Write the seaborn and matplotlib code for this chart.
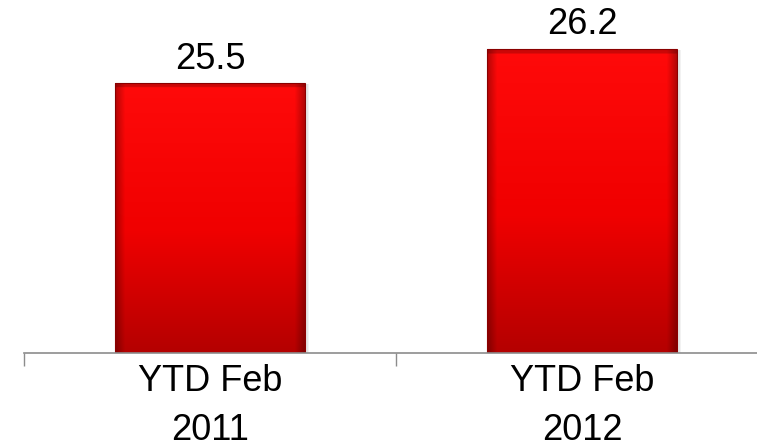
import numpy as np
import pandas as pd
import matplotlib
matplotlib.use("Agg")
import matplotlib.pyplot as plt
import matplotlib.patches as mpatches
from matplotlib.colors import to_rgb
import seaborn as sns

# Data
categories = ["YTD Feb\n2011", "YTD Feb\n2012"]
values = [25.5, 26.2]

sns.set_theme(style="white")
plt.rcParams["font.family"] = ["Liberation Sans", "DejaVu Sans"]

fig = plt.figure(figsize=(7.57, 4.48), dpi=100)
ax = fig.add_axes([24 / 757, 95 / 448, 744 / 757, 353 / 448])

df = pd.DataFrame({"period": categories, "value": values})
sns.barplot(data=df, x="period", y="value", color="#e00000", width=0.51,
            ax=ax, saturation=1)

ax.set_ylim(20, 20 + 353 / 49.0)
ax.set_xlim(-0.5, 1.5)

# Red gradient fill for each bar: bright top, darker base, shaded sides
top = np.array(to_rgb("#ff0a0a"))
mid = np.array(to_rgb("#f00000"))
bot = np.array(to_rgb("#b40000"))
ny, nx = 200, 120
t = np.linspace(0, 1, ny)[:, None, None]  # 0 = top, 1 = bottom
vert = np.where(t < 0.55, top + (mid - top) * (t / 0.55),
                mid + (bot - mid) * ((t - 0.55) / 0.45))
xs = np.linspace(-1, 1, nx)[None, :, None]
side = 1 - 0.28 * np.clip((np.abs(xs) - 0.9) / 0.1, 0, 1)
grad = np.clip(vert * side, 0, 1)
grad = np.broadcast_to(grad, (ny, nx, 3)).copy()
grad[:3] = np.clip(grad[:3] * 0.8, 0, 1)

for patch in list(ax.patches):
    x0, w = patch.get_x(), patch.get_width()
    y0 = 20
    h = patch.get_y() + patch.get_height() - 20
    # soft shadow to the right
    for k, a in [(0.012, 0.10), (0.008, 0.12), (0.004, 0.15)]:
        ax.add_patch(mpatches.Rectangle((x0 + k, y0), w, h - 0.02,
                                        facecolor="#808080", alpha=a,
                                        edgecolor="none", zorder=1.5))
    patch.set_zorder(2)
    im = ax.imshow(grad, extent=[x0, x0 + w, y0, y0 + h], aspect="auto",
                   origin="upper", zorder=2.1, interpolation="bilinear")
    im.set_clip_path(patch)
    ax.add_patch(mpatches.Rectangle((x0, y0), w, h, facecolor="none",
                                    edgecolor="#8a0000", linewidth=0.8,
                                    zorder=2.2))

ax.set_xlim(-0.5, 1.5)
ax.set_ylim(20, 20 + 353 / 49.0)

# Value labels above the bars
for i, v in enumerate(values):
    ax.annotate(f"{v:.1f}", (i, v), xytext=(0, 5), textcoords="offset points",
                ha="center", va="bottom", fontsize=26, color="black")

# Axis styling: only a grey baseline with boundary ticks
for s in ["top", "right", "left"]:
    ax.spines[s].set_visible(False)
ax.spines["bottom"].set_color("#8c8c8c")
ax.spines["bottom"].set_linewidth(1.2)
ax.set_yticks([])
ax.set_xlabel("")
ax.set_ylabel("")
ax.set_xticks([-0.5, 0.5, 1.5])
ax.set_xticklabels([])
ax.tick_params(axis="x", which="major", length=9, width=1.0,
               color="#8c8c8c", direction="out", bottom=True)
ax.set_xticks([0, 1], minor=True)
ax.set_xticklabels(categories, minor=True, fontsize=26, linespacing=1.5,
                   color="black")
ax.tick_params(axis="x", which="minor", length=0, pad=8)

fig.savefig("out.png", dpi=100)
